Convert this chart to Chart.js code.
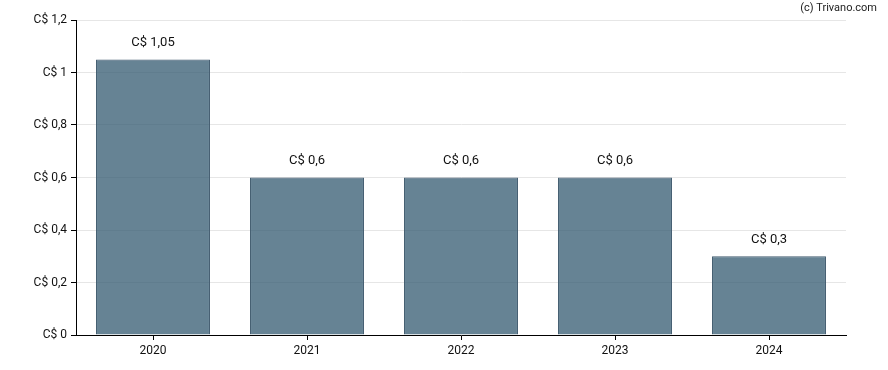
<!DOCTYPE html>
<html>
<head>
<meta charset="utf-8">
<script src="https://cdn.jsdelivr.net/npm/chart.js@4/dist/chart.umd.min.js"></script>
<style>
html,body{margin:0;padding:0;background:#fff;}
#wrap{width:888px;height:370px;position:relative;}
</style>
</head>
<body>
<div id="wrap"><canvas id="c" width="888" height="370"></canvas></div>
<script>
const categories = ['2020', '2021', '2022', '2023', '2024'];
const dividends = [1.05, 0.6, 0.6, 0.6, 0.3];
const yTicks = [0, 0.2, 0.4, 0.6, 0.8, 1, 1.2];

const fmt = v => 'C$ ' + String(Math.round(v * 100) / 100).replace('.', ',');

const labelPlugin = {
  id: 'labels',
  afterDatasetsDraw(chart) {
    const ctx = chart.ctx;
    const meta = chart.getDatasetMeta(0);
    ctx.save();
    ctx.font = '13px Roboto';
    ctx.fillStyle = '#111';
    ctx.textAlign = 'center';
    ctx.textBaseline = 'middle';
    meta.data.forEach((bar, i) => {
      ctx.fillText(fmt(dividends[i]), bar.x, bar.y - 17);
    });
    ctx.font = '11px Roboto';
    ctx.fillStyle = '#222';
    ctx.textAlign = 'right';
    ctx.fillText('(c) Trivano.com', 877, 8);
    ctx.restore();
  }
};

new Chart(document.getElementById('c'), {
  type: 'bar',
  data: {
    labels: categories,
    datasets: [{
      data: dividends,
      backgroundColor: 'rgba(51,90,112,0.75)',
      borderColor: '#435d70',
      borderWidth: 1,
      categoryPercentage: 1,
      barPercentage: 0.74
    }]
  },
  options: {
    responsive: false,
    animation: false,
    devicePixelRatio: 1,
    layout: { padding: { top: 20, right: 42, left: 0, bottom: 0 } },
    plugins: { legend: { display: false }, tooltip: { enabled: false } },
    scales: {
      x: {
        afterFit(s) { s.height = 35; },
        grid: { display: true, drawOnChartArea: false, offset: false, tickColor: '#000', tickLength: 5 },
        border: { color: '#000', width: 1 },
        ticks: { color: '#111', font: { family: 'Roboto', size: 12 }, padding: 4 }
      },
      y: {
        min: 0,
        max: 1.2,
        afterFit(s) { s.width = 76; },
        afterBuildTicks(s) { s.ticks = yTicks.map(v => ({ value: v })); },
        grid: { color: '#e6e6e6', tickColor: '#000', tickLength: 5 },
        border: { color: '#000', width: 1 },
        ticks: {
          color: '#111',
          font: { family: 'Roboto', size: 12 },
          padding: 4,
          callback: v => fmt(v)
        }
      }
    }
  },
  plugins: [labelPlugin]
});
</script>
</body>
</html>
